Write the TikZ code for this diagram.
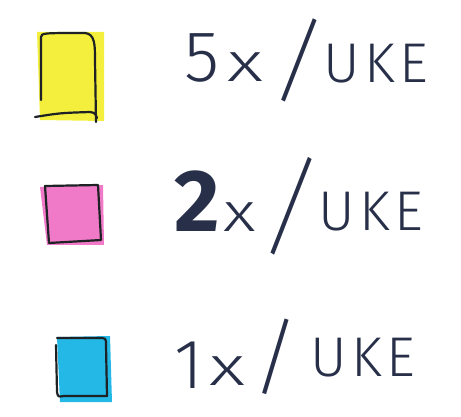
\documentclass[tikz,border=0pt]{standalone}
\usepackage{fontspec}
\usepackage{graphicx}
\IfFontExistsTF{Fira Sans Light}{\setmainfont{Fira Sans Light}[BoldFont={Fira Sans Bold}]}{%
 \IfFontExistsTF{Lato Light}{\setmainfont{Lato Light}[BoldFont={Lato Bold}]}{%
  \setmainfont{Fira Sans}}}
\definecolor{ink}{HTML}{283049}
\definecolor{mkyellow}{HTML}{F4EF3C}
\definecolor{mkpink}{HTML}{F07AC8}
\definecolor{mkcyan}{HTML}{23B8E6}
\definecolor{edge}{HTML}{1E2224}
\tikzset{
  hand/.style={inner sep=0pt, text=ink},
  word/.style={hand, anchor=base west, font=\fontsize{56}{56}\selectfont\addfontfeature{LetterSpace=8}},
  times/.style={hand, anchor=base west, font=\fontsize{58}{58}\selectfont},
  outline/.style={draw=edge, line width=2.2pt, line cap=round, line join=round}
}
\newcommand{\tallslash}[2]{\rotatebox{#2}{\scalebox{1}[#1]{/}}}
\newcommand{\widex}[1]{\scalebox{#1}[0.95]{x}}
\begin{document}
\begin{tikzpicture}[x=1pt,y=-1pt]
\useasboundingbox (0,0) rectangle (461,417);
% yellow square
\fill[mkyellow] (37,32) -- (104,32) -- (104,121) -- (40,120) -- cycle;
\draw[outline] (41,100) -- (41,37) .. controls (42,33) .. (85,33) .. controls (95,34) and (95,45) .. (95,60) -- (96,122);
\draw[outline] (35,117) .. controls (60,113) .. (90,112) .. controls (95,113) .. (97,118);
% pink square
\fill[mkpink] (40,187) -- (103,185) -- (104,245) -- (47,245) -- cycle;
\draw[outline] (45,186) -- (98,185) -- (101,240) -- (49,243) -- cycle;
% cyan square
\fill[mkcyan] (57,337) -- (110,336) -- (112,402) -- (60,402) -- cycle;
\draw[outline] (56,345) -- (57,392) .. controls (58,397) .. (64,396) -- (107,396) -- (106,345) .. controls (106,338) .. (98,338) -- (57,338);
% row 1
\node[hand, anchor=base west, font=\fontsize{72}{72}\selectfont] (n1) at (184,82) {5};
\node[times] (x1) at (227,82) {\widex{1.35}};
\node[hand, anchor=center, font=\fontsize{80}{80}\selectfont] (s1) at (299,60) {\tallslash{1.2}{-9}};
\node[word] (u1) at (323,83) {UKE};
% row 2
\node[hand, anchor=base west, font=\fontsize{88}{88}\selectfont\bfseries] (n2) at (174,232) {2};
\node[times] (x2) at (223,232) {\widex{1.22}};
\node[hand, anchor=center, font=\fontsize{80}{80}\selectfont] (s2) at (292,206) {\tallslash{1.42}{-11}};
\node[word] (u2) at (318,230) {UKE};
% row 3
\node[hand, anchor=base west, font=\fontsize{70}{70}\selectfont] (n3) at (174,388) {1};
\node[times] (x3) at (209,385) {\widex{1.35}};
\node[hand, anchor=center, font=\fontsize{80}{80}\selectfont] (s3) at (276,357) {\tallslash{1.06}{-3}};
\node[word] (u3) at (310,376) {UKE};
\end{tikzpicture}
\end{document}
